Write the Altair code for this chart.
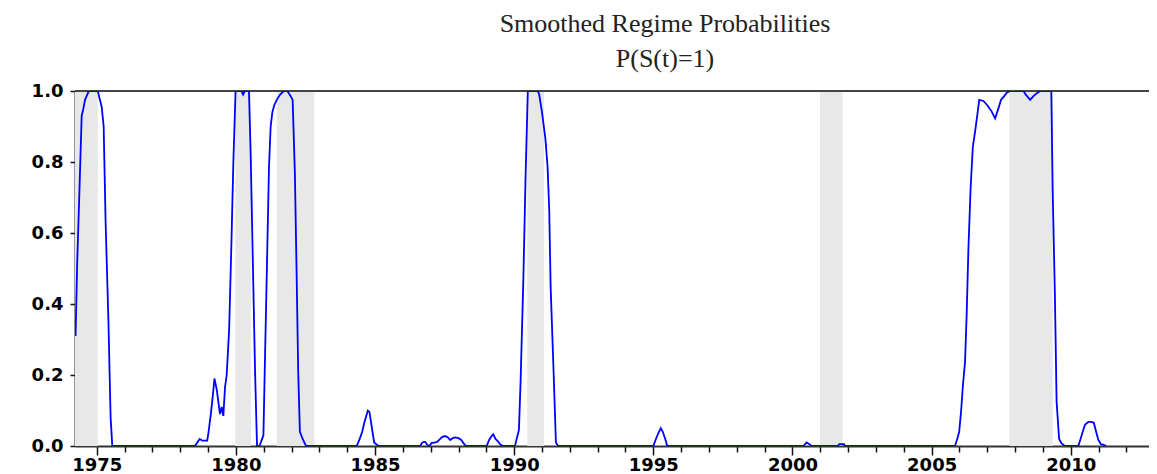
import altair as alt
import pandas as pd

# Smoothed probability P(S(t)=1) (decimal year, value)
dates = [
    1974.24, 1974.30, 1974.38, 1974.46, 1974.52, 1974.58, 1974.66, 1974.72, 1975.04, 1975.10,
    1975.18, 1975.25, 1975.32, 1975.42, 1975.50, 1975.56,
    1978.53, 1978.70, 1978.80, 1978.97, 1979.02, 1979.10, 1979.17, 1979.23, 1979.31, 1979.37,
    1979.43, 1979.49, 1979.55, 1979.61, 1979.67, 1979.76, 1979.84, 1979.91, 1979.99, 1980.20,
    1980.26, 1980.32, 1980.47, 1980.53, 1980.61, 1980.69, 1980.76, 1980.85, 1980.92, 1980.99,
    1981.05, 1981.12, 1981.19, 1981.25, 1981.31, 1981.38, 1981.47, 1981.59, 1981.72, 1981.85,
    1981.97, 1982.04, 1982.12, 1982.18, 1982.24, 1982.30, 1982.40, 1982.52,
    1984.34, 1984.45, 1984.54, 1984.61, 1984.68, 1984.74, 1984.80, 1984.85, 1984.92, 1984.97,
    1985.12,
    1986.62, 1986.70, 1986.80, 1986.88, 1986.95, 1987.03, 1987.16, 1987.24, 1987.34, 1987.42,
    1987.52, 1987.61, 1987.70, 1987.79, 1987.88, 1988.00, 1988.10, 1988.18, 1988.26,
    1989.01, 1989.10, 1989.19, 1989.25, 1989.33, 1989.43, 1989.52, 1989.61,
    1990.03, 1990.09, 1990.17, 1990.23, 1990.33, 1990.41, 1990.49, 1990.85, 1990.90, 1991.00,
    1991.12, 1991.20, 1991.26, 1991.31, 1991.41, 1991.50, 1991.58,
    1995.00, 1995.09, 1995.18, 1995.27, 1995.34, 1995.42, 1995.50,
    2000.39, 2000.51, 2000.63, 2000.68,
    2001.64, 2001.68, 2001.85, 2001.89,
    2005.84, 2005.92, 2005.99, 2006.06, 2006.12, 2006.20, 2006.26, 2006.32, 2006.40, 2006.48,
    2006.56, 2006.64, 2006.71, 2006.86, 2007.00, 2007.16, 2007.28, 2007.40, 2007.49, 2007.60,
    2007.70, 2007.82, 2008.30, 2008.39, 2008.54, 2008.65, 2008.78, 2008.90, 2009.30, 2009.35,
    2009.43, 2009.49, 2009.58, 2009.67, 2009.79,
    2010.27, 2010.35, 2010.43, 2010.51, 2010.63, 2010.75, 2010.83, 2010.91, 2010.99, 2011.08,
    2011.19, 2011.27,
]
probs = [
    0.31, 0.52, 0.72, 0.93, 0.95, 0.975, 0.99, 1.0, 1.0, 0.98,
    0.955, 0.90, 0.63, 0.355, 0.08, 0.0,
    0.0, 0.02, 0.015, 0.015, 0.04, 0.09, 0.14, 0.19, 0.16, 0.125,
    0.09, 0.11, 0.085, 0.165, 0.20, 0.33, 0.57, 0.80, 1.0, 1.0,
    0.99, 1.0, 1.0, 0.83, 0.52, 0.21, 0.0, 0.0, 0.015, 0.03,
    0.26, 0.52, 0.785, 0.90, 0.94, 0.96, 0.975, 0.99, 1.0, 1.0,
    0.985, 0.975, 0.77, 0.50, 0.21, 0.04, 0.02, 0.0,
    0.0, 0.02, 0.04, 0.064, 0.083, 0.10, 0.096, 0.07, 0.035, 0.01,
    0.0,
    0.0, 0.01, 0.012, 0.003, 0.0, 0.008, 0.01, 0.012, 0.02, 0.026,
    0.028, 0.025, 0.017, 0.022, 0.024, 0.022, 0.017, 0.008, 0.0,
    0.0, 0.017, 0.028, 0.033, 0.02, 0.012, 0.003, 0.0,
    0.0, 0.02, 0.045, 0.18, 0.47, 0.76, 1.0, 1.0, 0.99, 0.94,
    0.867, 0.787, 0.665, 0.449, 0.223, 0.01, 0.0,
    0.0, 0.019, 0.036, 0.05, 0.04, 0.022, 0.0,
    0.0, 0.01, 0.004, 0.0,
    0.0, 0.005, 0.005, 0.0,
    0.0, 0.02, 0.04, 0.10, 0.167, 0.237, 0.374, 0.552, 0.726, 0.843,
    0.885, 0.932, 0.975, 0.972, 0.96, 0.942, 0.923, 0.951, 0.975, 0.985,
    0.995, 1.0, 1.0, 0.989, 0.975, 0.985, 0.994, 1.0, 1.0, 0.716,
    0.42, 0.125, 0.02, 0.007, 0.0,
    0.0, 0.02, 0.04, 0.06, 0.068, 0.068, 0.065, 0.04, 0.017, 0.005,
    0.003, 0.0,
]

# Shaded (recession) periods
rec_start = [1974.22, 1979.98, 1981.47, 1990.47, 2000.99, 2007.79]
rec_end = [1975.04, 1980.54, 1982.82, 1991.07, 2001.80, 2009.35]

y_ticks = [0.0, 0.2, 0.4, 0.6, 0.8, 1.0]
year_ticks = list(range(1975, 2013))
title_lines = ["Smoothed Regime Probabilities", "P(S(t)=1)"]

x_domain = [1974.22, 2012.81]

df_line = pd.DataFrame({"date": dates, "prob": probs})
df_rec = pd.DataFrame({"start": rec_start, "end": rec_end})
df_top = pd.DataFrame({"y": [1.0]})

xscale = alt.Scale(domain=x_domain, nice=False, zero=False)
yscale = alt.Scale(domain=[0, 1], nice=False, zero=True)

x_axis = alt.Axis(
    values=year_ticks,
    labelExpr="datum.value % 5 == 0 ? '' + datum.value : ''",
    tickSize=alt.ExprRef(expr="datum.value % 5 == 0 ? 9 : 6"),
    labelPadding=1,
    labelFontSize=18,
    title=None,
    grid=False,
)
y_axis = alt.Axis(
    values=y_ticks,
    format=".1f",
    tickSize=5,
    labelPadding=7,
    labelFontSize=18,
    title=None,
    grid=False,
)

shade = alt.Chart(df_rec).mark_rect(color="#e8e8e8").encode(
    x=alt.X("start:Q", scale=xscale, axis=x_axis),
    x2="end:Q",
    y=alt.datum(0, scale=yscale),
    y2=alt.datum(1),
)

top = alt.Chart(df_top).mark_rule(color="#444444", strokeWidth=2).encode(
    y=alt.Y("y:Q", scale=yscale, axis=y_axis)
)

line = alt.Chart(df_line).mark_line(color="#0000ff", strokeWidth=1.8, clip=True).encode(
    x=alt.X("date:Q", scale=xscale, axis=x_axis),
    y=alt.Y("prob:Q", scale=yscale, axis=y_axis),
)

chart = (
    alt.layer(shade, top, line)
    .properties(
        width=1074,
        height=355,
        autosize=alt.AutoSizeParams(type="none"),
        padding={"left": 67, "top": 83, "right": 0, "bottom": 27},
        title=alt.TitleParams(
            text=title_lines,
            font="Liberation Serif",
            fontSize=26,
            fontWeight="normal",
            color="#222222",
            anchor="middle",
            dx=53,
            offset=10,
            lineHeight=35,
        ),
        background="white",
    )
    .configure_view(strokeWidth=0)
    .configure_axis(
        domainColor="#333333",
        domainWidth=2,
        tickColor="#111111",
        tickWidth=1.5,
        labelFont="DejaVu Sans",
        labelFontWeight="bold",
        labelColor="#000000",
        zindex=1,
    )
)

chart.save("out.html", embed_options={"renderer": "svg", "actions": False})
